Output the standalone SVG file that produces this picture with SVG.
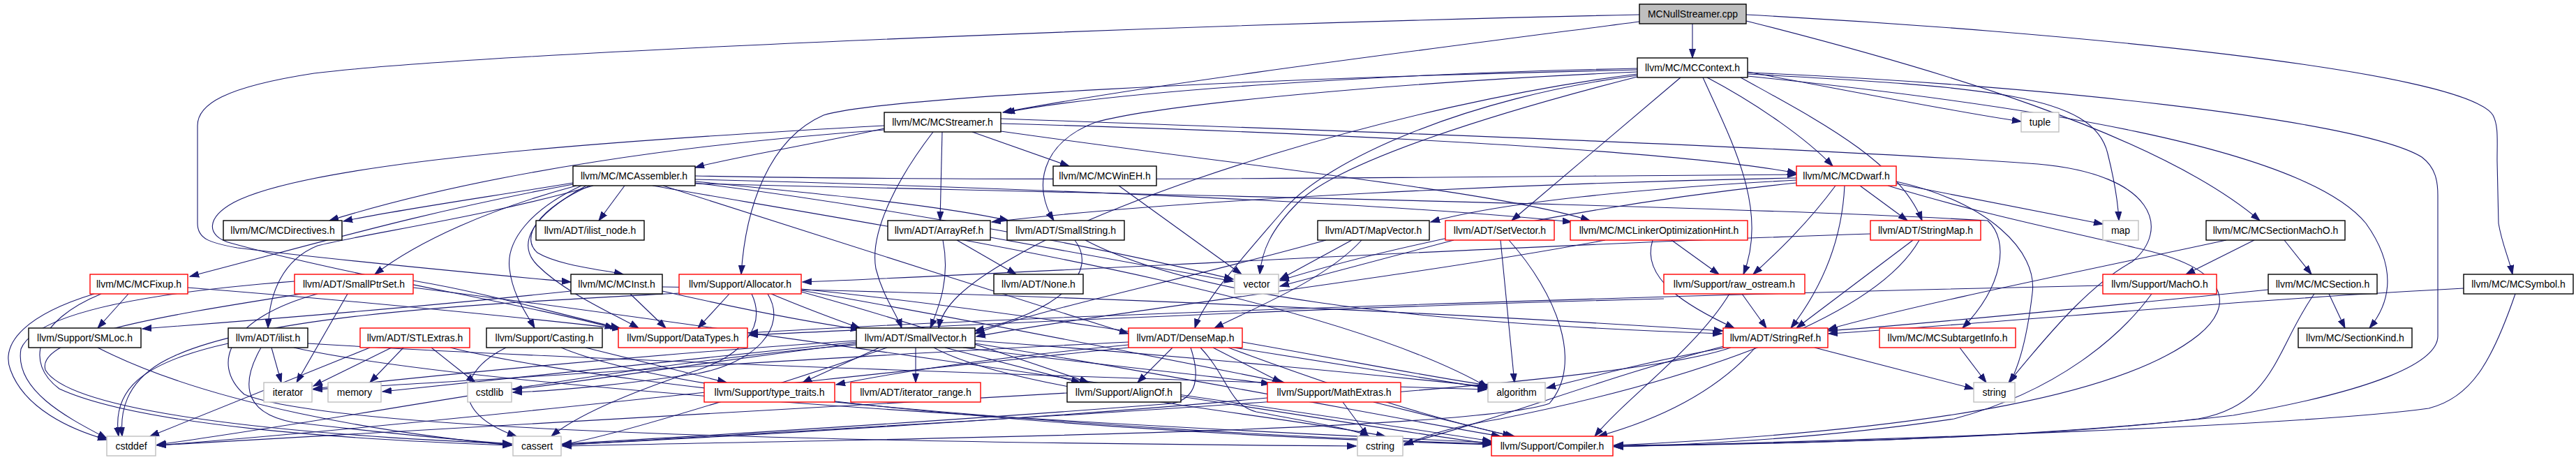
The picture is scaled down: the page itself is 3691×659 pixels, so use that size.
<svg xmlns="http://www.w3.org/2000/svg" width="3691" height="659" viewBox="0 0 3691 659">
<defs>
<marker id="a" markerWidth="14" markerHeight="10" refX="13" refY="5" orient="auto" markerUnits="userSpaceOnUse"><path d="M0,0.5 L13,5 L0,9.5 z" fill="#191970" stroke="#191970" stroke-width="1"/></marker>
<style>
.n rect{fill:#fff;stroke:#000;stroke-width:1.4}
.n.r rect{stroke:#f00}
.n.g rect{stroke:#bfbfbf}
.n.root rect{fill:#bfbfbf}
.n text{font-family:"Liberation Sans",Arial,sans-serif;font-size:14px;text-anchor:middle;fill:#000}
#edges path{fill:none;stroke:#191970;stroke-width:1.1;marker-end:url(#a)}
</style>
</defs>
<rect width="3691" height="659" fill="#fff"/>
<g id="edges">
<path d="M2425,34 L2425,83"/>
<path d="M2349,31 C2050,70 1650,120 1437,161"/>
<path d="M2349,21 C1700,35 700,75 450,105 C320,125 283,150 283,180 L283,320 C283,342 300,348 340,355 C500,375 700,393 818,404"/>
<path d="M2502,30 C2760,95 3090,190 3238,316"/>
<path d="M2502,21 C2950,45 3530,100 3572,165 C3580,180 3578,200 3578,230 L3580,320 C3585,350 3595,370 3600,393"/>
<path d="M2346,98 C2000,105 1600,130 1441,161"/>
<path d="M2346,103 C2000,118 1660,150 1570,175 C1490,205 1480,270 1510,316"/>
<path d="M2346,106 C2000,150 1600,280 1450,370 C1380,410 1350,440 1345,470"/>
<path d="M2408,111 L2166,316"/>
<path d="M2446,111 C2520,150 2590,200 2626,238"/>
<path d="M2494,111 C2600,170 2720,230 2754,316"/>
<path d="M2504,103 C2650,130 2800,160 2896,174"/>
<path d="M2504,106 C2850,125 3000,135 3020,220 C3030,260 3035,295 3036,316"/>
<path d="M2504,109 C2900,150 3300,210 3390,320 C3440,390 3420,440 3395,470"/>
<path d="M2504,104 C2900,120 3380,170 3470,225 C3490,240 3493,260 3493,280 L3493,480 C3495,520 3400,560 3200,595 C2900,630 2500,637 2313,639"/>
<path d="M2440,111 C2480,200 2535,300 2498,393"/>
<path d="M2346,100 C1800,112 1260,140 1180,165 C1100,200 1068,300 1062,393"/>
<path d="M2346,108 C2100,140 1900,230 1840,300 C1780,370 1725,430 1712,470"/>
<path d="M2346,110 C2150,160 1920,230 1860,290 C1820,330 1808,360 1805,393"/>
<path d="M1267,184 C1150,210 1050,225 996,240"/>
<path d="M1267,186 C1000,205 700,245 472,316"/>
<path d="M1337,189 C1290,250 1245,330 1255,385 C1265,425 1285,450 1292,470"/>
<path d="M1350,189 L1347,316"/>
<path d="M1393,189 L1532,238"/>
<path d="M1434,177 C1900,190 2400,215 2574,248"/>
<path d="M1434,188 C1800,240 2150,275 2278,316"/>
<path d="M1267,180 C900,200 450,230 335,290 C295,312 295,338 330,348 C500,395 750,435 880,470"/>
<path d="M1434,170 C2000,190 2600,212 2920,235 C3090,250 3110,330 3055,375 C3000,405 2950,460 2878,548"/>
<path d="M821,262 C700,282 560,302 492,317"/>
<path d="M895,266 L858,316"/>
<path d="M821,264 C600,305 450,350 272,396"/>
<path d="M826,266 C700,300 600,345 537,393"/>
<path d="M850,266 C700,310 520,335 455,352 C405,372 386,420 384,470"/>
<path d="M845,266 C770,300 745,340 770,362 C800,380 860,386 893,393"/>
<path d="M833,266 C760,300 725,345 730,385 C735,425 755,450 766,470"/>
<path d="M840,266 C760,310 740,350 770,380 C810,420 880,450 915,470"/>
<path d="M950,266 C1150,330 1400,410 1617,478"/>
<path d="M996,260 C1200,280 1350,295 1445,316"/>
<path d="M996,252 C1500,262 2200,252 2574,250"/>
<path d="M996,257 C1500,270 2000,292 2252,318"/>
<path d="M996,263 C1800,282 2500,296 2848,316 C2880,345 2870,410 2812,470"/>
<path d="M935,266 C1300,330 1900,420 2132,555"/>
<path d="M996,262 C1300,300 1600,360 1767,400"/>
<path d="M1603,266 L1779,393"/>
<path d="M2574,255 C2200,262 1700,285 1421,318"/>
<path d="M2574,258 C2350,270 2150,290 2050,318"/>
<path d="M2665,266 L2733,316"/>
<path d="M2630,266 C2590,320 2548,360 2512,393"/>
<path d="M2643,266 C2640,330 2620,400 2566,470"/>
<path d="M2705,266 C2850,310 2980,335 3060,355 C3200,385 3200,440 3150,480 C3050,560 2800,615 2313,638"/>
<path d="M2717,263 L3013,321"/>
<path d="M2717,260 C2850,290 2920,360 2912,420 C2905,480 2895,520 2880,548"/>
<path d="M2574,262 C2300,290 2000,350 1834,402"/>
<path d="M1371,344 L1456,393"/>
<path d="M1351,344 C1362,400 1345,440 1333,470"/>
<path d="M1419,340 L1767,403"/>
<path d="M1540,344 C1575,390 1520,445 1397,474"/>
<path d="M1555,344 C1700,420 2000,462 2467,478"/>
<path d="M1937,344 L1834,400"/>
<path d="M1951,344 C1900,400 1800,440 1740,470"/>
<path d="M1900,344 C1700,400 1500,440 1397,478"/>
<path d="M2083,344 L1834,410"/>
<path d="M2150,344 L2170,548"/>
<path d="M2162,344 C2230,420 2270,520 2220,578 C2100,620 1200,630 806,639"/>
<path d="M2395,344 L2463,393"/>
<path d="M2368,344 C2350,400 2420,440 2485,470"/>
<path d="M2300,344 C2000,400 1600,445 1399,482"/>
<path d="M2741,344 L2574,470"/>
<path d="M2680,335 C2200,350 1500,390 1150,404"/>
<path d="M2750,344 C2690,450 2450,540 2150,600 C2060,615 2030,630 2012,638"/>
<path d="M3230,344 L3132,393"/>
<path d="M3273,344 L3312,393"/>
<path d="M3190,344 C3000,385 2750,435 2619,472"/>
<path d="M184,421 L140,470"/>
<path d="M135,421 C40,450 0,490 15,530 C35,585 100,615 153,630"/>
<path d="M269,412 C500,430 750,455 890,471"/>
<path d="M145,421 C50,460 35,520 85,557 C200,610 500,630 733,638"/>
<path d="M498,421 L425,548"/>
<path d="M422,403 C200,420 50,450 30,500 C20,560 100,600 153,628"/>
<path d="M432,421 C250,450 50,480 65,530 C100,590 400,622 733,636"/>
<path d="M455,421 C330,455 300,520 350,565 C500,625 1400,635 1943,639"/>
<path d="M592,412 C900,450 1800,580 2137,632"/>
<path d="M592,402 C700,420 800,450 888,470"/>
<path d="M903,421 L954,470"/>
<path d="M818,417 C600,440 350,460 204,471"/>
<path d="M949,417 C1050,440 1150,460 1232,472"/>
<path d="M949,411 C1500,420 2100,450 2469,474"/>
<path d="M1045,421 L1000,470"/>
<path d="M1077,421 C1100,470 1060,510 1000,530 C880,570 820,600 790,625"/>
<path d="M1100,421 C1130,470 1080,520 1000,535 C900,550 800,560 735,562"/>
<path d="M1105,421 C1150,440 1190,455 1232,470"/>
<path d="M1148,418 C1300,460 1450,510 1560,548"/>
<path d="M1148,416 C1400,460 1700,520 1840,548"/>
<path d="M1148,414 C1500,450 1900,520 2132,556"/>
<path d="M973,420 C700,435 350,450 230,520 C180,550 172,590 175,625"/>
<path d="M2496,421 L2531,470"/>
<path d="M2478,421 C2430,500 2330,570 2285,625"/>
<path d="M2384,428 C1900,440 1400,465 1073,480"/>
<path d="M3083,421 C3040,480 2950,560 2800,600 C2600,630 2400,638 2313,640"/>
<path d="M3013,409 C2500,420 1500,450 1073,477"/>
<path d="M3337,421 L3360,470"/>
<path d="M3250,415 C3000,440 2800,460 2620,474"/>
<path d="M3316,421 C3260,500 3260,580 3150,600 C2900,630 2500,637 2313,638"/>
<path d="M3530,413 C3200,430 2900,460 2620,478"/>
<path d="M3604,421 C3570,520 3540,570 3480,585 C3300,610 2700,630 2313,640"/>
<path d="M140,498 C300,580 550,620 733,638"/>
<path d="M389,498 L403,548"/>
<path d="M327,492 C200,520 160,560 170,625"/>
<path d="M374,498 C350,540 340,590 420,605 C550,620 650,630 733,636"/>
<path d="M441,492 C900,520 1700,545 2130,558"/>
<path d="M421,498 C700,560 1600,610 2137,634"/>
<path d="M561,498 L449,553"/>
<path d="M578,498 L530,548"/>
<path d="M530,498 L215,625"/>
<path d="M618,498 L681,548"/>
<path d="M645,498 C900,560 1600,620 2137,636"/>
<path d="M725,498 C660,530 640,590 740,625"/>
<path d="M839,498 L1041,548"/>
<path d="M804,498 C1000,580 1700,625 2137,637"/>
<path d="M1312,498 L1312,548"/>
<path d="M1354,498 L1548,548"/>
<path d="M1260,498 L1150,548"/>
<path d="M1380,498 C1550,520 1750,540 1820,550"/>
<path d="M1397,492 C1700,540 2000,600 2150,625"/>
<path d="M1397,488 C1700,510 2000,540 2132,554"/>
<path d="M1271,498 C1150,540 900,620 806,637"/>
<path d="M1227,494 C900,520 500,600 225,637"/>
<path d="M1227,492 C1000,520 850,545 735,558"/>
<path d="M1338,498 C1450,560 1800,590 1985,625"/>
<path d="M1227,488 C900,510 600,540 449,557"/>
<path d="M1227,490 C950,520 700,545 548,561"/>
<path d="M1680,498 L1630,548"/>
<path d="M1738,498 L1836,548"/>
<path d="M1617,494 C1450,510 1300,530 1198,551"/>
<path d="M1760,498 C1900,550 2050,600 2170,625"/>
<path d="M1780,490 C1950,520 2050,540 2132,552"/>
<path d="M1706,498 C1720,540 1715,570 1680,578 C1400,600 1000,625 806,636"/>
<path d="M1720,498 C1760,540 1760,580 1800,590 C1880,605 1940,615 1962,625"/>
<path d="M1617,498 C1200,540 600,610 225,638"/>
<path d="M1617,490 C1200,510 700,545 449,558"/>
<path d="M2600,498 L2828,557"/>
<path d="M2472,498 C2350,520 2280,540 2216,556"/>
<path d="M2515,498 C2460,560 2380,600 2290,625"/>
<path d="M2480,498 C2300,560 1400,600 806,638"/>
<path d="M2470,496 C2300,540 2150,600 2012,636"/>
<path d="M2808,498 L2846,548"/>
<path d="M1692,568 C1900,600 2050,625 2137,636"/>
<path d="M1529,563 C1000,590 500,620 225,638"/>
<path d="M1924,576 L1960,625"/>
<path d="M1968,576 L2166,625"/>
<path d="M1816,570 C1500,600 1000,628 806,637"/>
</g>
<g id="n0" class="n root"><rect x="2349" y="6" width="153" height="28"/><text x="2425.5" y="25">MCNullStreamer.cpp</text></g>
<g id="n1" class="n"><rect x="2346" y="83" width="158" height="28"/><text x="2425" y="102">llvm/MC/MCContext.h</text></g>
<g id="n2" class="n"><rect x="1267" y="161" width="167" height="28"/><text x="1350.5" y="180">llvm/MC/MCStreamer.h</text></g>
<g id="n3" class="n g"><rect x="2896" y="161" width="54" height="28"/><text x="2923" y="180">tuple</text></g>
<g id="n4" class="n"><rect x="821" y="238" width="175" height="28"/><text x="908.5" y="257">llvm/MC/MCAssembler.h</text></g>
<g id="n5" class="n"><rect x="1509" y="238" width="148" height="28"/><text x="1583" y="257">llvm/MC/MCWinEH.h</text></g>
<g id="n6" class="n r"><rect x="2574" y="238" width="143" height="28"/><text x="2645.5" y="257">llvm/MC/MCDwarf.h</text></g>
<g id="n7" class="n"><rect x="320" y="316" width="170" height="28"/><text x="405" y="335">llvm/MC/MCDirectives.h</text></g>
<g id="n8" class="n"><rect x="768" y="316" width="155" height="28"/><text x="845.5" y="335">llvm/ADT/ilist_node.h</text></g>
<g id="n9" class="n"><rect x="1272" y="316" width="147" height="28"/><text x="1345.5" y="335">llvm/ADT/ArrayRef.h</text></g>
<g id="n10" class="n"><rect x="1443" y="316" width="168" height="28"/><text x="1527" y="335">llvm/ADT/SmallString.h</text></g>
<g id="n11" class="n"><rect x="1888" y="316" width="160" height="28"/><text x="1968" y="335">llvm/ADT/MapVector.h</text></g>
<g id="n12" class="n r"><rect x="2071" y="316" width="156" height="28"/><text x="2149" y="335">llvm/ADT/SetVector.h</text></g>
<g id="n13" class="n r"><rect x="2250" y="316" width="254" height="28"/><text x="2377" y="335">llvm/MC/MCLinkerOptimizationHint.h</text></g>
<g id="n14" class="n r"><rect x="2680" y="316" width="158" height="28"/><text x="2759" y="335">llvm/ADT/StringMap.h</text></g>
<g id="n15" class="n g"><rect x="3013" y="316" width="51" height="28"/><text x="3038.5" y="335">map</text></g>
<g id="n16" class="n"><rect x="3161" y="316" width="199" height="28"/><text x="3260.5" y="335">llvm/MC/MCSectionMachO.h</text></g>
<g id="n17" class="n r"><rect x="129" y="393" width="140" height="28"/><text x="199" y="412">llvm/MC/MCFixup.h</text></g>
<g id="n18" class="n r"><rect x="422" y="393" width="170" height="28"/><text x="507" y="412">llvm/ADT/SmallPtrSet.h</text></g>
<g id="n19" class="n"><rect x="818" y="393" width="131" height="28"/><text x="883.5" y="412">llvm/MC/MCInst.h</text></g>
<g id="n20" class="n r"><rect x="973" y="393" width="175" height="28"/><text x="1060.5" y="412">llvm/Support/Allocator.h</text></g>
<g id="n21" class="n"><rect x="1424" y="393" width="128" height="28"/><text x="1488" y="412">llvm/ADT/None.h</text></g>
<g id="n22" class="n g"><rect x="1769" y="393" width="63" height="28"/><text x="1800.5" y="412">vector</text></g>
<g id="n23" class="n r"><rect x="2384" y="393" width="202" height="28"/><text x="2485" y="412">llvm/Support/raw_ostream.h</text></g>
<g id="n24" class="n r"><rect x="3013" y="393" width="163" height="28"/><text x="3094.5" y="412">llvm/Support/MachO.h</text></g>
<g id="n25" class="n"><rect x="3250" y="393" width="156" height="28"/><text x="3328" y="412">llvm/MC/MCSection.h</text></g>
<g id="n26" class="n"><rect x="3530" y="393" width="157" height="28"/><text x="3608.5" y="412">llvm/MC/MCSymbol.h</text></g>
<g id="n27" class="n"><rect x="41" y="470" width="161" height="28"/><text x="121.5" y="489">llvm/Support/SMLoc.h</text></g>
<g id="n28" class="n"><rect x="327" y="470" width="114" height="28"/><text x="384" y="489">llvm/ADT/ilist.h</text></g>
<g id="n29" class="n r"><rect x="516" y="470" width="157" height="28"/><text x="594.5" y="489">llvm/ADT/STLExtras.h</text></g>
<g id="n30" class="n"><rect x="697" y="470" width="166" height="28"/><text x="780" y="489">llvm/Support/Casting.h</text></g>
<g id="n31" class="n r"><rect x="886" y="470" width="185" height="28"/><text x="978.5" y="489">llvm/Support/DataTypes.h</text></g>
<g id="n32" class="n"><rect x="1227" y="470" width="170" height="28"/><text x="1312" y="489">llvm/ADT/SmallVector.h</text></g>
<g id="n33" class="n r"><rect x="1617" y="470" width="163" height="28"/><text x="1698.5" y="489">llvm/ADT/DenseMap.h</text></g>
<g id="n34" class="n r"><rect x="2469" y="470" width="150" height="28"/><text x="2544" y="489">llvm/ADT/StringRef.h</text></g>
<g id="n35" class="n r"><rect x="2693" y="470" width="195" height="28"/><text x="2790.5" y="489">llvm/MC/MCSubtargetInfo.h</text></g>
<g id="n36" class="n"><rect x="3293" y="470" width="163" height="28"/><text x="3374.5" y="489">llvm/MC/SectionKind.h</text></g>
<g id="n37" class="n g"><rect x="378" y="548" width="69" height="28"/><text x="412.5" y="567">iterator</text></g>
<g id="n38" class="n g"><rect x="470" y="548" width="76" height="28"/><text x="508" y="567">memory</text></g>
<g id="n39" class="n g"><rect x="670" y="548" width="63" height="28"/><text x="701.5" y="567">cstdlib</text></g>
<g id="n40" class="n r"><rect x="1009" y="548" width="187" height="28"/><text x="1102.5" y="567">llvm/Support/type_traits.h</text></g>
<g id="n41" class="n r"><rect x="1219" y="548" width="186" height="28"/><text x="1312" y="567">llvm/ADT/iterator_range.h</text></g>
<g id="n42" class="n"><rect x="1529" y="548" width="163" height="28"/><text x="1610.5" y="567">llvm/Support/AlignOf.h</text></g>
<g id="n43" class="n r"><rect x="1816" y="548" width="191" height="28"/><text x="1911.5" y="567">llvm/Support/MathExtras.h</text></g>
<g id="n44" class="n g"><rect x="2132" y="548" width="82" height="28"/><text x="2173" y="567">algorithm</text></g>
<g id="n45" class="n g"><rect x="2828" y="548" width="59" height="28"/><text x="2857.5" y="567">string</text></g>
<g id="n46" class="n g"><rect x="153" y="625" width="70" height="28"/><text x="188" y="644">cstddef</text></g>
<g id="n47" class="n g"><rect x="735" y="625" width="69" height="28"/><text x="769.5" y="644">cassert</text></g>
<g id="n48" class="n g"><rect x="1945" y="625" width="65" height="28"/><text x="1977.5" y="644">cstring</text></g>
<g id="n49" class="n r"><rect x="2137" y="625" width="174" height="28"/><text x="2224" y="644">llvm/Support/Compiler.h</text></g>
</svg>
